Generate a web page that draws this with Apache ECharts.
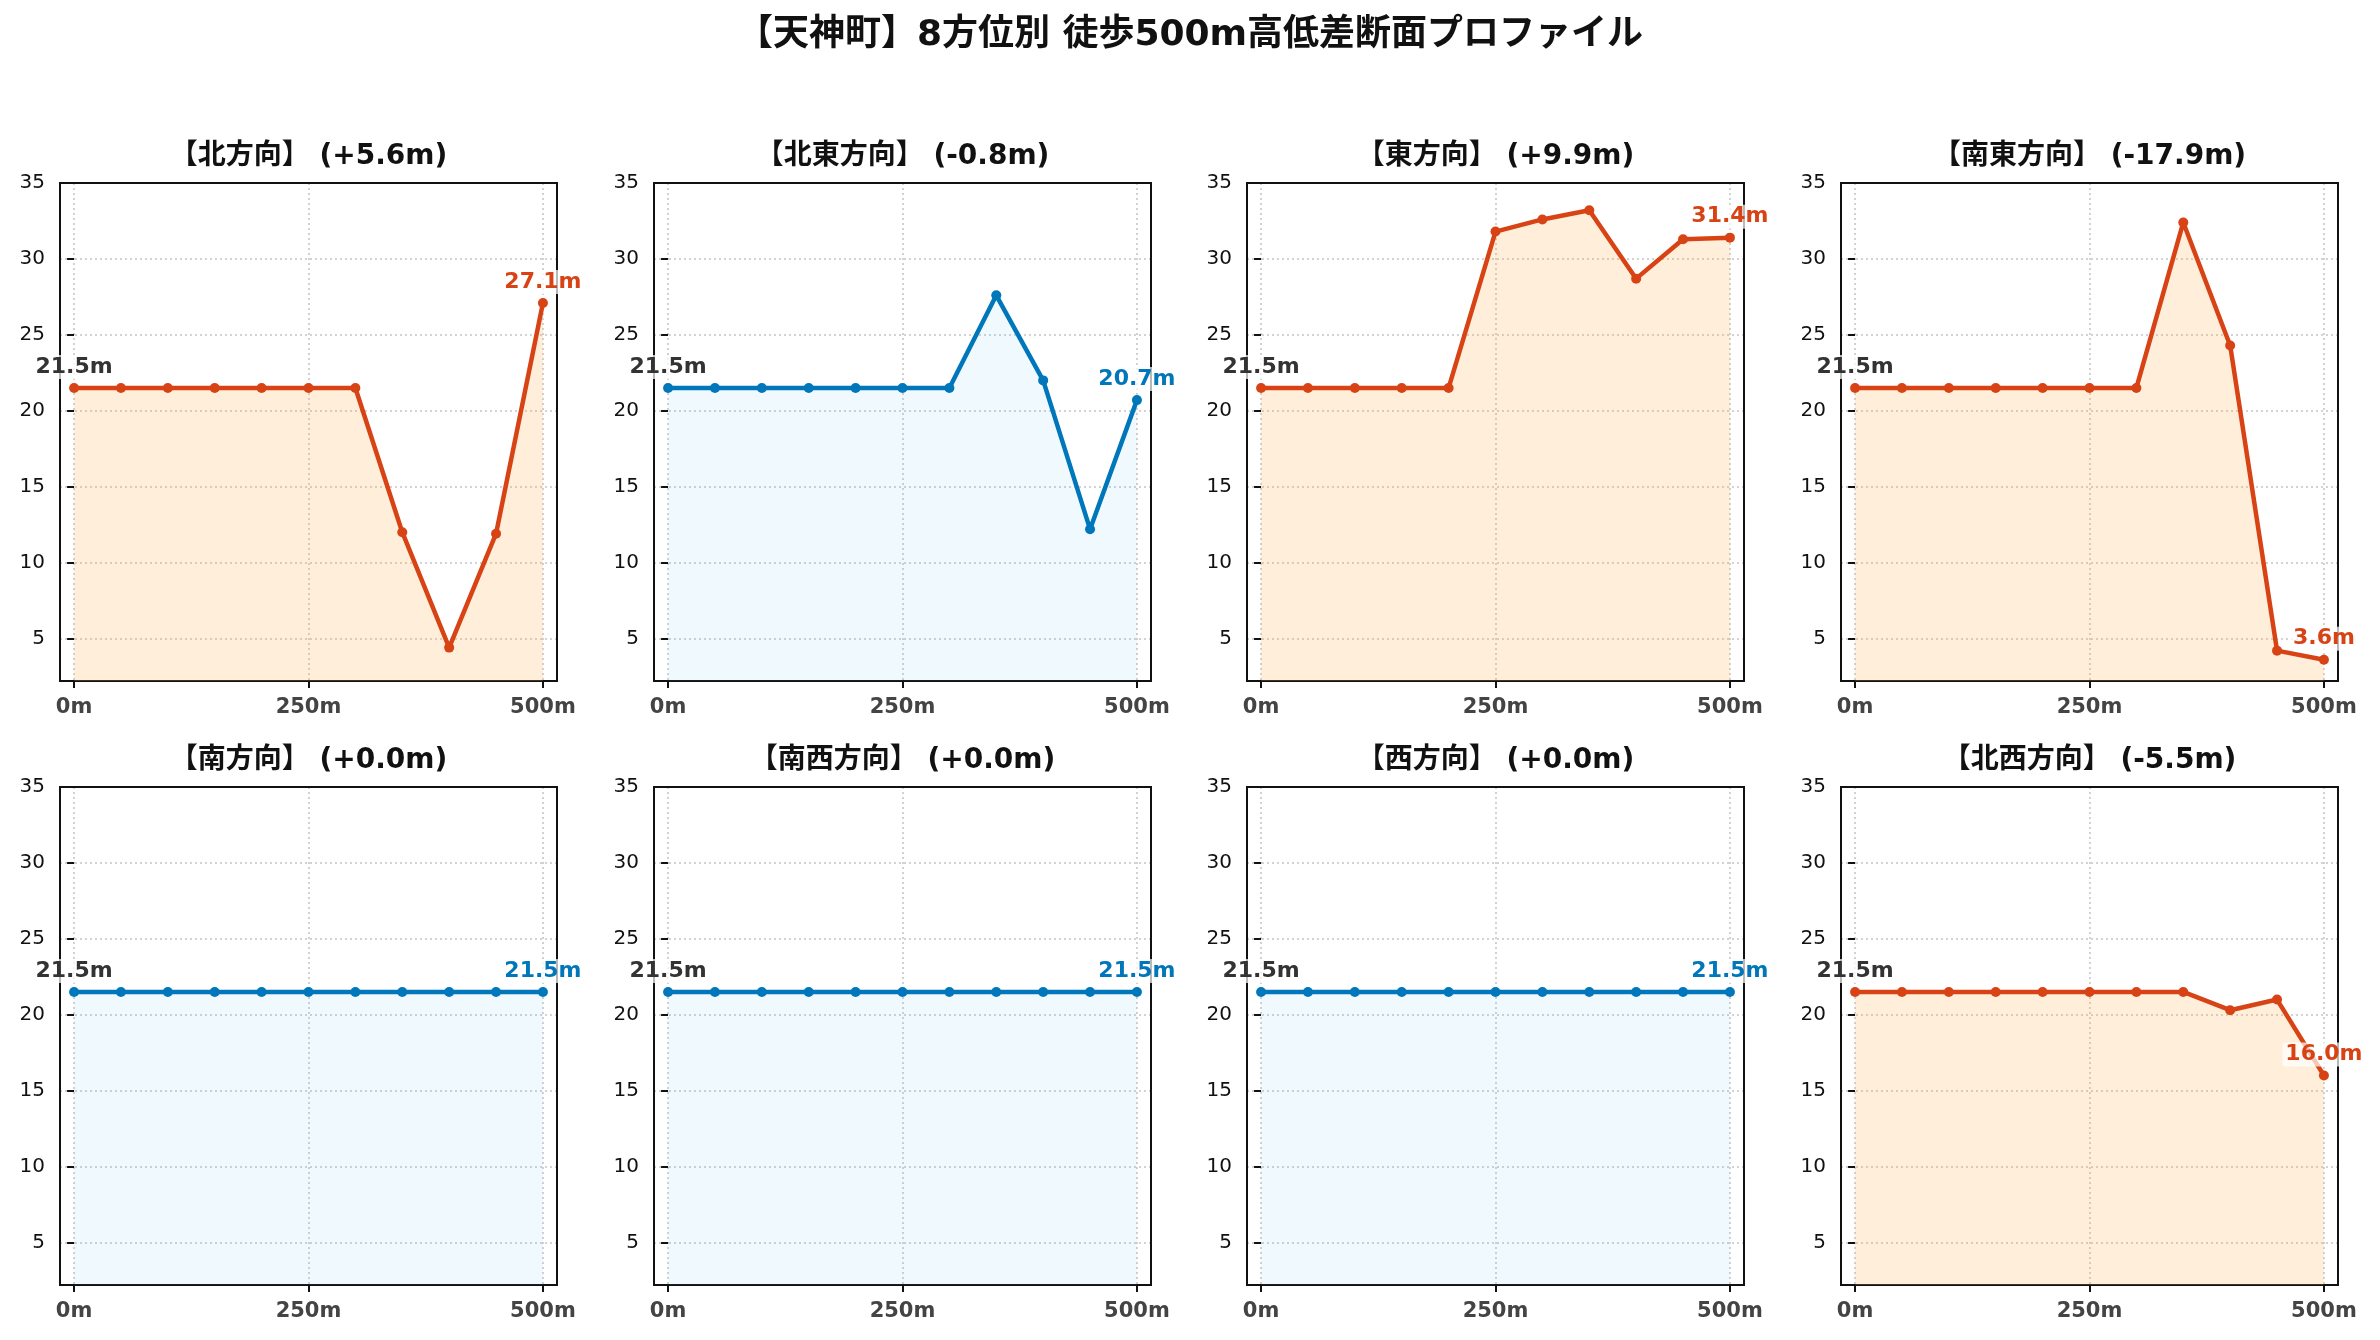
<!DOCTYPE html>
<html>
<head>
<meta charset="utf-8">
<script src="https://cdn.jsdelivr.net/npm/echarts@6/dist/echarts.min.js"></script>
<style>
  html, body { margin: 0; padding: 0; background: #fff; }
  #main { width: 2380px; height: 1340px; }
</style>
</head>
<body>
<div id="main"></div>
<script>
//----------- Data
const distances = [0, 50, 100, 150, 200, 250, 300, 350, 400, 450, 500];
const directionNames = ["北", "北東", "東", "南東", "南", "南西", "西", "北西"];
const elevNorth     = [21.5, 21.5, 21.5, 21.5, 21.5, 21.5, 21.5, 12.0, 4.4, 11.9, 27.1];
const elevNorthEast = [21.5, 21.5, 21.5, 21.5, 21.5, 21.5, 21.5, 27.6, 22.0, 12.2, 20.7];
const elevEast      = [21.5, 21.5, 21.5, 21.5, 21.5, 31.8, 32.6, 33.2, 28.7, 31.3, 31.4];
const elevSouthEast = [21.5, 21.5, 21.5, 21.5, 21.5, 21.5, 21.5, 32.4, 24.3, 4.2, 3.6];
const elevSouth     = [21.5, 21.5, 21.5, 21.5, 21.5, 21.5, 21.5, 21.5, 21.5, 21.5, 21.5];
const elevSouthWest = [21.5, 21.5, 21.5, 21.5, 21.5, 21.5, 21.5, 21.5, 21.5, 21.5, 21.5];
const elevWest      = [21.5, 21.5, 21.5, 21.5, 21.5, 21.5, 21.5, 21.5, 21.5, 21.5, 21.5];
const elevNorthWest = [21.5, 21.5, 21.5, 21.5, 21.5, 21.5, 21.5, 21.5, 20.3, 21.0, 16.0];
const yTicks = [5, 10, 15, 20, 25, 30, 35];
const xTicks = [0, 250, 500];
const mainTitle = "【天神町】8方位別 徒歩500m高低差断面プロファイル";
//----------- Data

const profiles = [elevNorth, elevNorthEast, elevEast, elevSouthEast,
                  elevSouth, elevSouthWest, elevWest, elevNorthWest];

const FONT = "'DejaVu Sans', 'Noto Sans CJK JP', sans-serif";
const RED = "#d84315";
const BLUE = "#0077bb";
const RED_FILL = "rgba(251,176,80,0.3)";
const BLUE_FILL = "rgba(90,190,235,0.13)";

//Panel placement
const colLeft = [60, 654, 1247, 1841];
const rowTop = [183, 787];
const panelW = 497;
const panelH = 498;

const myChart = echarts.init(document.getElementById("main"));

const grids = [], xAxes = [], yAxes = [], series = [];
const titles = [{
    text: mainTitle,
    left: 1190,
    top: 36,
    padding: 0,
    textAlign: "center",
    textVerticalAlign: "middle",
    textStyle: {fontFamily: FONT, fontSize: 36, fontWeight: "bold", color: "#111"}
}];

profiles.forEach((vals, i) => {
    const col = i % 4;
    const row = Math.floor(i / 4);
    const diff = vals[vals.length - 1] - vals[0];
    const big = Math.abs(diff) >= 5;
    const lineColor = big ? RED : BLUE;
    const sign = diff >= 0 ? "+" : "-";

    //grid above the grid lines so the black frame stays solid
    grids.push({
        left: colLeft[col], top: rowTop[row], width: panelW, height: panelH,
        show: true, borderColor: "#111", borderWidth: 2, backgroundColor: "transparent",
        z: 10
    });

    titles.push({
        text: `【${directionNames[i]}方向】 (${sign}${Math.abs(diff).toFixed(1)}m)`,
        left: colLeft[col] + panelW / 2,
        top: rowTop[row] - 26,
        padding: 0,
        textAlign: "center",
        textVerticalAlign: "middle",
        textStyle: {fontFamily: FONT, fontSize: 28, fontWeight: "bold", color: "#111"}
    });

    xAxes.push({
        gridIndex: i, type: "value", min: -15, max: 515,
        axisLine: {show: false},
        axisTick: {show: true, length: 7, customValues: xTicks, lineStyle: {color: "#111", width: 2}},
        axisLabel: {
            customValues: xTicks, margin: 16, color: "#444",
            fontFamily: FONT, fontSize: 21, fontWeight: "bold",
            formatter: v => v + "m"
        },
        splitLine: {show: true, lineStyle: {color: "#c4c4c4", width: 1.5, type: [2, 3]}}
    });

    yAxes.push({
        gridIndex: i, type: "value", min: 2.2, max: 35,
        axisLine: {show: false},
        axisTick: {show: true, length: 7, customValues: yTicks, lineStyle: {color: "#111", width: 2}},
        axisLabel: {
            customValues: yTicks, margin: 15, color: "#111",
            fontFamily: FONT, fontSize: 20
        },
        splitLine: {show: true, lineStyle: {color: "#c4c4c4", width: 1.5, type: [2, 3]}}
    });

    const last = vals.length - 1;
    const data = distances.map((d, k) => {
        const item = {value: [d, vals[k]]};
        if (k === 0 || k === last) {
            item.label = {
                show: true,
                position: "top",
                distance: 4,
                color: k === 0 ? "#333" : lineColor,
                fontFamily: FONT,
                fontSize: 22,
                fontWeight: "bold",
                backgroundColor: "rgba(255,255,255,0.7)",
                borderRadius: 3,
                padding: [1, 3],
                formatter: p => p.value[1].toFixed(1) + "m"
            };
        }
        return item;
    });

    series.push({
        type: "line",
        xAxisIndex: i,
        yAxisIndex: i,
        data: data,
        symbol: "circle",
        symbolSize: 10,
        showSymbol: true,
        lineStyle: {color: lineColor, width: 4.5},
        itemStyle: {color: lineColor},
        areaStyle: {color: big ? RED_FILL : BLUE_FILL, origin: "start"},
        label: {show: false},
        emphasis: {disabled: true},
        z: 12
    });
});

myChart.setOption({
    animation: false,
    backgroundColor: "#fff",
    title: titles,
    grid: grids,
    xAxis: xAxes,
    yAxis: yAxes,
    series: series
});
</script>
</body>
</html>
